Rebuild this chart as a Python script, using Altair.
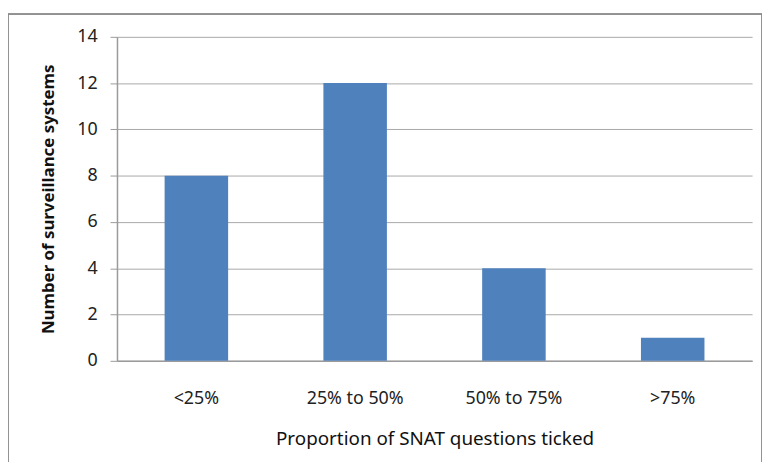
import altair as alt
import pandas as pd

categories = ["<25%", "25% to 50%", "50% to 75%", ">75%"]
counts = [8, 12, 4, 1]

df = pd.DataFrame({"category": categories, "count": counts})

FONT = "Noto Sans"

bars = alt.Chart(df).mark_bar(color="#4F81BD").encode(
    x=alt.X("category:N", sort=categories,
            scale=alt.Scale(paddingInner=0.6, paddingOuter=0.3),
            axis=alt.Axis(title="Proportion of SNAT questions ticked", labelAngle=0,
                          ticks=False, labelPadding=29, titlePadding=22,
                          domainColor="#9a9a9a", labelFontSize=18, titleFontSize=19,
                          titleFontWeight="normal")),
    y=alt.Y("count:Q", scale=alt.Scale(domain=[0, 14]),
            axis=alt.Axis(title="Number of surveillance systems", values=list(range(0, 15, 2)),
                          tickSize=7, tickColor="#9a9a9a", domainColor="#9a9a9a",
                          gridColor="#a8a8a8", labelPadding=13, titlePadding=19,
                          labelFontSize=18, titleFontSize=17, titleFontWeight="bold")),
)

frame = alt.Chart(df).mark_rect(filled=False, stroke="#8c8c8c", strokeWidth=1, clip=False).encode(
    x=alt.value(-110), x2=alt.value(651), y=alt.value(-23), y2=alt.value(460)
)

chart = alt.layer(bars, frame).properties(
    width=641, height=327,
    autosize=alt.AutoSizeParams(type="none"),
    padding={"left": 110, "top": 27, "right": 10, "bottom": 100},
).configure_view(stroke=None).configure_axis(
    labelFont=FONT, titleFont=FONT, labelColor="#222222", titleColor="#111111", domainWidth=1.5
)

chart.save("out.html", embed_options={"renderer": "svg", "actions": False})
